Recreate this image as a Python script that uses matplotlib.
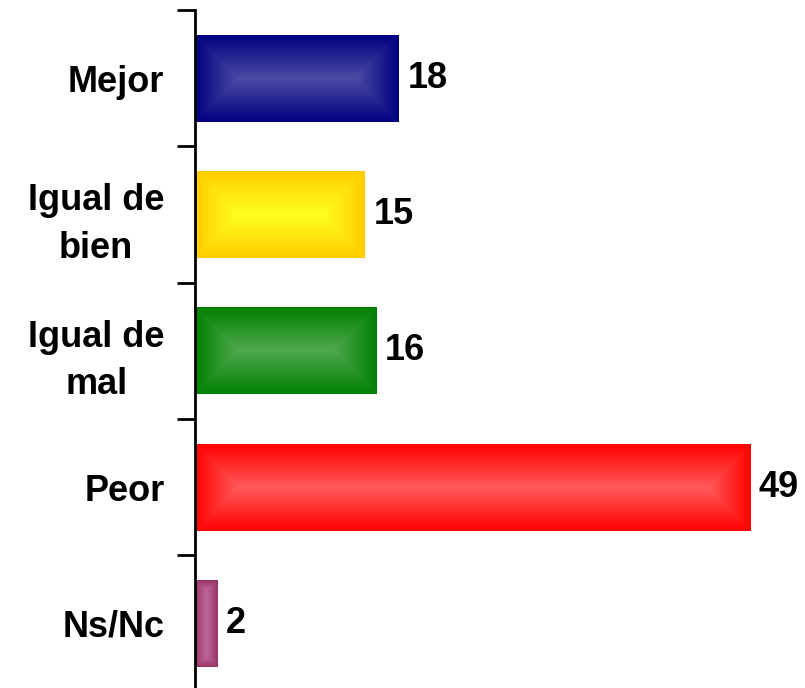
import numpy as np
import matplotlib
matplotlib.use("Agg")
import matplotlib.pyplot as plt

categorias = ["Mejor", "Igual de\nbien", "Igual de\nmal", "Peor", "Ns/Nc"]
valores = [18, 15, 16, 49, 2]
# color del borde y del centro de cada barra (degradado)
borde = ["#000080", "#FFCC00", "#008000", "#FF0000", "#993366"]
centro = ["#4B4BA5", "#FFFF20", "#4FA84F", "#FF5A5A", "#BE6A98"]

plt.rcParams['font.family'] = ['Liberation Sans', 'DejaVu Sans']

fig = plt.figure(figsize=(8.05, 6.88), dpi=100)
ax = fig.add_axes([195 / 805, -3.5 / 688, 610 / 805, 681.5 / 688])

alto = 0.638
px_unidad = 11.33
px_cat = 136.3

def degradado(c0, c1, w_px, h_px):
    nx = max(int(w_px), 2)
    ny = max(int(h_px), 2)
    x = (np.arange(nx) + 0.5)
    y = (np.arange(ny) + 0.5)
    X, Y = np.meshgrid(x, y)
    d = np.minimum(np.minimum(X, nx - X), np.minimum(Y, ny - Y))
    s = d / (min(nx, ny) / 2)
    s = np.clip(s, 0, 1)
    a = np.array(matplotlib.colors.to_rgb(c0))
    b = np.array(matplotlib.colors.to_rgb(c1))
    return a + (b - a) * s[..., None]

for i, (v, c0, c1) in enumerate(zip(valores, borde, centro)):
    img = degradado(c0, c1, v * px_unidad, alto * px_cat)
    ax.imshow(img, extent=(0, v, i + alto / 2, i - alto / 2),
              aspect='auto', interpolation='bilinear', zorder=2)
    ax.text(v + 0.75, i, str(v), va='center', ha='left',
            fontsize=26, fontweight='bold', color='black')

ax.set_xlim(0, 610 / px_unidad)
ax.set_ylim(len(categorias) - 0.5, -0.5)

ax.set_yticks(range(len(categorias)))
ax.set_yticklabels(categorias, fontsize=26, fontweight='bold',
                   multialignment='center', linespacing=1.45)
ax.tick_params(axis='y', which='major', length=0, pad=22)
ax.set_yticks(np.arange(-0.5, len(categorias), 1.0), minor=True)
ax.tick_params(axis='y', which='minor', length=13, width=2, color='black')
ax.set_xticks([])

for lado in ['top', 'right', 'bottom']:
    ax.spines[lado].set_visible(False)
ax.spines['left'].set_linewidth(2)
ax.spines['left'].set_zorder(3)

fig.savefig("out.png", dpi=100)
